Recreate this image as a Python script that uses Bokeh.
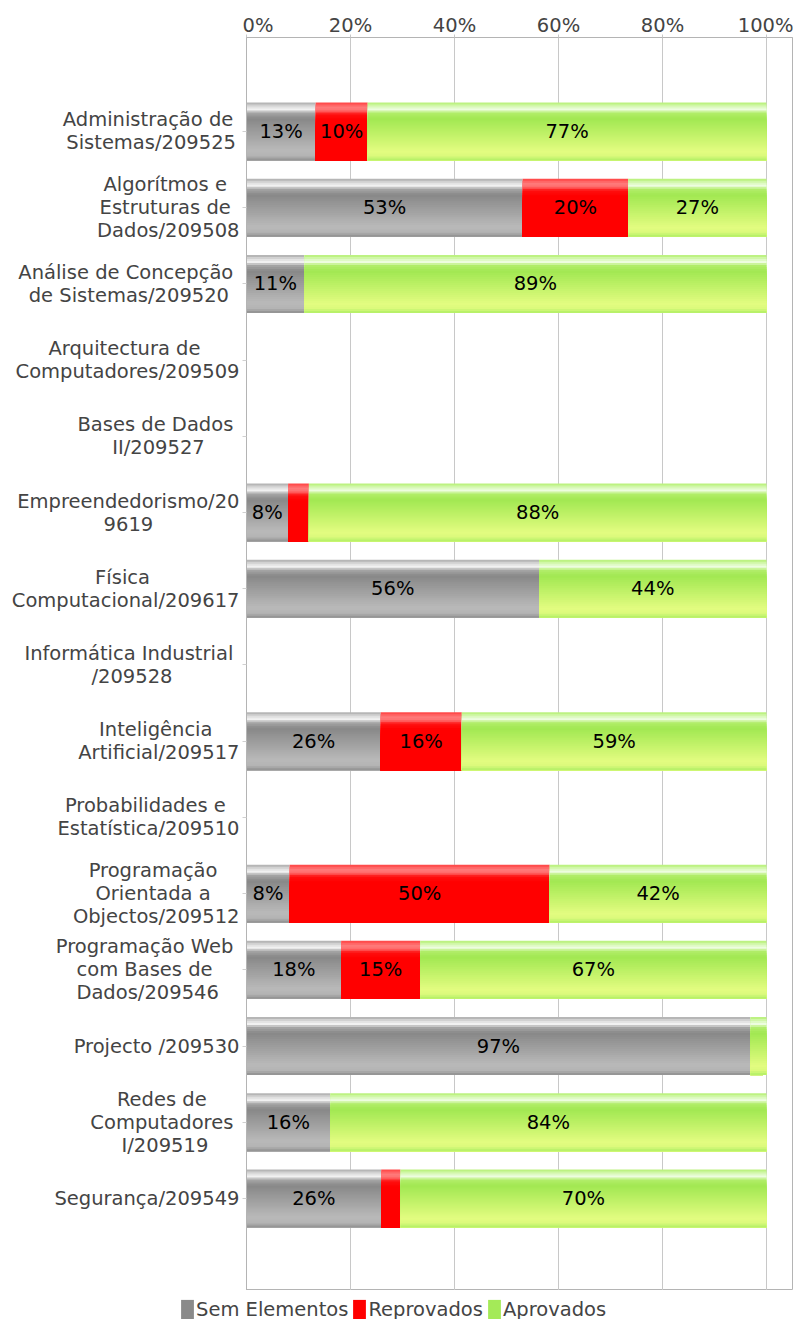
from bokeh.plotting import figure
from bokeh.models import (Range1d, FixedTicker, PrintfTickFormatter, Legend, LegendItem,
                          ColumnDataSource)
from bokeh.layouts import row, column
from bokeh.embed import file_html
from bokeh.resources import INLINE
from bokeh.core.properties import value

# ---------------- data ----------------
categories = [
    "Administração de \nSistemas/209525",
    "Algorítmos e \nEstruturas de \nDados/209508",
    "Análise de Concepção \nde Sistemas/209520",
    "Arquitectura de \nComputadores/209509",
    "Bases de Dados \nII/209527",
    "Empreendedorismo/20\n9619",
    "Física \nComputacional/209617",
    "Informática Industrial \n/209528",
    "Inteligência \nArtificial/209517",
    "Probabilidades e \nEstatística/209510",
    "Programação \nOrientada a \nObjectos/209512",
    "Programação Web \ncom Bases de \nDados/209546",
    "Projecto /209530",
    "Redes de \nComputadores \nI/209519",
    "Segurança/209549",
]
sem_elementos = [13.3, 53.1, 11.1, 0, 0, 8.0, 56.25, 0, 25.8, 0, 8.3, 18.2, 96.9, 16.1, 25.9]
reprovados    = [10.0, 20.3, 0.0, 0, 0, 4.0, 0.0, 0, 15.6, 0, 50.0, 15.2, 0.0, 0.0, 3.7]
aprovados     = [76.7, 26.6, 88.9, 0, 0, 88.0, 43.75, 0, 58.6, 0, 41.7, 66.6, 3.1, 83.9, 70.4]
series_names = ["Sem Elementos", "Reprovados", "Aprovados"]
x_ticks = [0, 20, 40, 60, 80, 100]

# ---------------- style ----------------
FONT = "DejaVu Sans"
FS = "19.5px"
TXT = "#444444"
BAR_H = 0.761
NSTRIPE = 29

stops = {
    "Sem Elementos": [(0, "#a8a8a8"), (0.06, "#d8d8d8"), (0.12, "#f2f2f2"), (0.18, "#a6a6a6"),
                      (0.28, "#888888"), (0.82, "#b9b9b9"), (0.92, "#b4b4b4"), (1, "#8e8e8e")],
    "Reprovados": [(0, "#ff4040"), (0.08, "#ff7a7a"), (0.14, "#ff7070"), (0.2, "#ff1010"),
                   (0.3, "#ff0000"), (1, "#ff0000")],
    "Aprovados": [(0, "#b4f070"), (0.06, "#d4f8b0"), (0.12, "#eefde0"), (0.18, "#b2ee6a"),
                  (0.28, "#a2e852"), (0.84, "#e2fc80"), (0.92, "#dcfa7c"), (1, "#b0ee64")],
}
legend_colors = {"Sem Elementos": "#8a8a8a", "Reprovados": "#ff0000", "Aprovados": "#a4ea58"}


def hex2rgb(h):
    h = h.lstrip("#")
    return [int(h[i:i + 2], 16) for i in (0, 2, 4)]


def interp(st, t):
    for (t0, c0), (t1, c1) in zip(st[:-1], st[1:]):
        if t0 <= t <= t1:
            a = 0 if t1 == t0 else (t - t0) / (t1 - t0)
            r0, r1 = hex2rgb(c0), hex2rgb(c1)
            return "#%02x%02x%02x" % tuple(round(r0[i] + (r1[i] - r0[i]) * a) for i in range(3))
    return st[-1][1]


n = len(categories)
idx = list(range(n))
yr = Range1d(15.207, -1.233)

# ---------------- main plot ----------------
p = figure(width=551, height=1290, output_backend="svg", toolbar_location=None,
           x_range=Range1d(0, 105), y_range=yr,
           x_axis_location="above", min_border_left=4, min_border_right=1,
           min_border_top=37, min_border_bottom=0)
p.background_fill_color = "white"
p.border_fill_color = "white"
p.outline_line_color = "#b4b4b4"

xa = p.xaxis[0]
xa.ticker = FixedTicker(ticks=x_ticks)
xa.formatter = PrintfTickFormatter(format="%d%%")
xa.major_label_text_font = FONT
xa.major_label_text_font_size = FS
xa.major_label_text_color = TXT
xa.axis_line_color = "#b4b4b4"
xa.major_tick_line_color = "#c8c8c8"
xa.major_tick_in = 0
xa.major_tick_out = 3
xa.minor_tick_line_color = None
xa.major_label_standoff = -2

ya = p.yaxis[0]
ya.ticker = FixedTicker(ticks=idx)
ya.major_label_overrides = {i: "" for i in idx}
ya.major_label_text_font_size = "0px"
ya.axis_line_color = "#b4b4b4"
ya.major_tick_line_color = "#d0d0d0"
ya.major_tick_in = 0
ya.major_tick_out = 4
ya.minor_tick_line_color = None
ya.major_label_standoff = 0

p.xgrid.ticker = FixedTicker(ticks=x_ticks)
p.xgrid.grid_line_color = "#c8c8c8"
p.ygrid.grid_line_color = None

series_vals = [sem_elementos, reprovados, aprovados]
left = [0.0] * n
seg_info = []
dh = BAR_H / NSTRIPE
for name, vals in zip(series_names, series_vals):
    lefts = list(left)
    rights = [l + v for l, v in zip(lefts, vals)]
    keep = [i for i in idx if vals[i] > 0]
    for k in range(NSTRIPE):
        t = (k + 0.5) / NSTRIPE
        col = interp(stops[name], t)
        hgt = BAR_H - k * dh
        src = ColumnDataSource(dict(
            y=[i - BAR_H / 2 + k * dh + hgt / 2 for i in keep],
            left=[lefts[i] for i in keep],
            right=[rights[i] for i in keep],
        ))
        p.hbar(y="y", left="left", right="right", height=hgt, source=src,
               fill_color=col, line_color=None)
    for i in keep:
        seg_info.append(((lefts[i] + rights[i]) / 2, i, vals[i]))
    left = rights

lab = [s for s in seg_info if s[2] >= 6]
p.text(x=[s[0] for s in lab], y=[s[1] for s in lab],
       text=["%d%%" % int(round(s[2])) for s in lab],
       text_align="center", text_baseline="middle", text_font=value(FONT),
       text_font_size=FS, text_color="black")

# ---------------- category labels (left) ----------------
pl = figure(width=242, height=1290, output_backend="svg", toolbar_location=None,
            x_range=Range1d(0, 242), y_range=yr, x_axis_type=None, y_axis_type=None,
            min_border_left=0, min_border_right=0, min_border_top=37, min_border_bottom=0)
pl.outline_line_color = None
pl.grid.grid_line_color = None
pl.background_fill_color = "white"
pl.border_fill_color = "white"
pl.text(x=[239] * n, y=idx, text=categories, anchor="center_right",
        text_align="center", text_baseline="middle", text_line_height=1.0,
        text_font=value(FONT), text_font_size=FS, text_color=TXT)

# ---------------- legend strip ----------------
pg = figure(width=793, height=29, output_backend="svg", toolbar_location=None,
            x_range=Range1d(0, 793), y_range=Range1d(0, 29), x_axis_type=None, y_axis_type=None,
            min_border_left=0, min_border_right=0, min_border_top=0, min_border_bottom=0)
pg.outline_line_color = None
pg.grid.grid_line_color = None
items = []
for nm in series_names:
    # a single off-screen bar per series only serves the legend swatch
    r = pg.hbar(y="y", left="left", right="right", height=1,
                source=ColumnDataSource(dict(y=[-100], left=[-100], right=[-99])),
                fill_color=legend_colors[nm], line_color=None)
    items.append(LegendItem(label=nm, renderers=[r], index=0))
legend = Legend(items=items, orientation="horizontal", location=(179, -2),
                glyph_width=16, glyph_height=24, label_height=19, label_standoff=1, spacing=3,
                padding=0, margin=0, border_line_color=None, background_fill_alpha=0,
                label_text_font=FONT, label_text_font_size=FS, label_text_color=TXT)
pg.add_layout(legend)

layout = column(row(pl, p, spacing=0), pg, spacing=0)
open("out.html", "w").write(file_html(layout, INLINE))
